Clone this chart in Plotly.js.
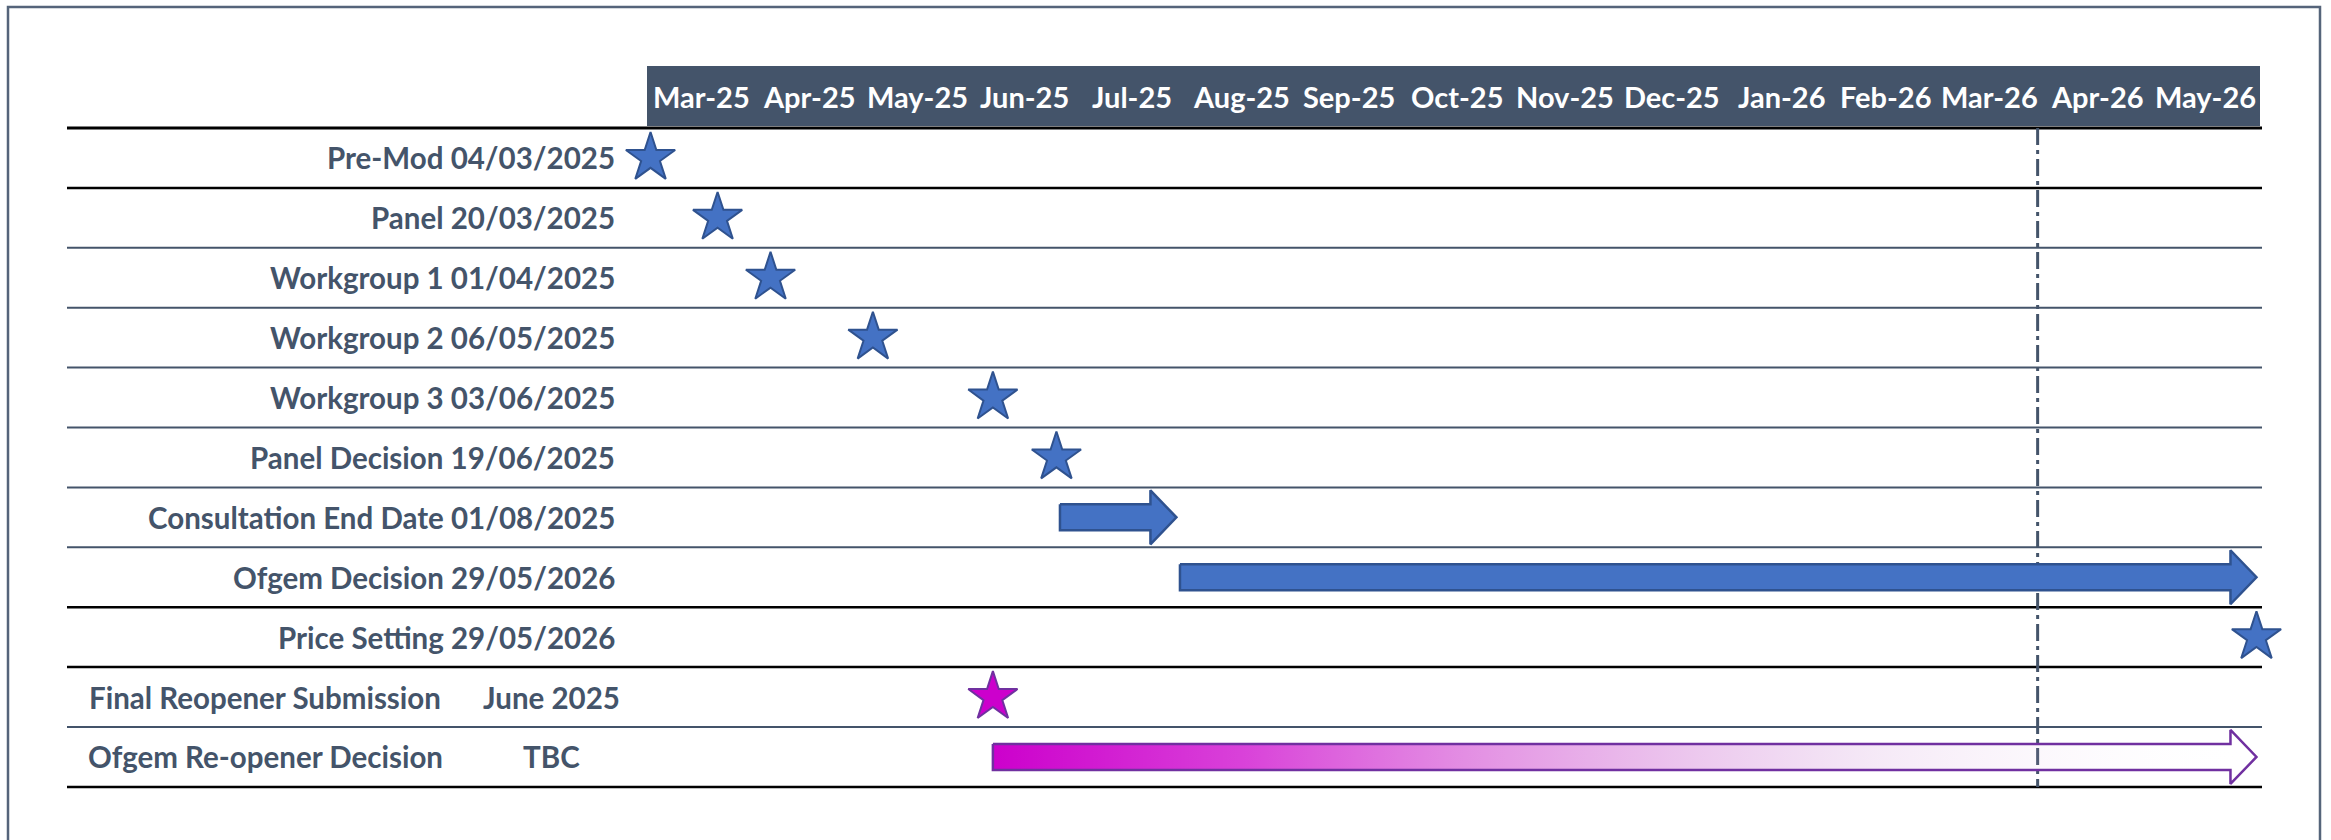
<!DOCTYPE html>
<html><head><meta charset="utf-8">
<script src="https://cdn.plot.ly/plotly-3.0.1.min.js"></script>
<style>html,body{margin:0;padding:0;background:#fff;}#chart{width:2331px;height:840px;}</style>
</head><body><div id="chart"></div>
<script>
// ---------- DATA ----------
const months = ['2025-03-01','2025-04-01','2025-05-01','2025-06-01','2025-07-01','2025-08-01','2025-09-01','2025-10-01','2025-11-01','2025-12-01','2026-01-01','2026-02-01','2026-03-01','2026-04-01','2026-05-01'];
const monthLabels = ['Mar-25','Apr-25','May-25','Jun-25','Jul-25','Aug-25','Sep-25','Oct-25','Nov-25','Dec-25','Jan-26','Feb-26','Mar-26','Apr-26','May-26'];
const axisEnd = '2026-06-01';

const taskNames = ['Pre-Mod','Panel','Workgroup 1','Workgroup 2','Workgroup 3','Panel Decision','Consultation End Date','Ofgem Decision','Price Setting','Final Reopener Submission','Ofgem Re-opener Decision'];
const taskDates = ['04/03/2025','20/03/2025','01/04/2025','06/05/2025','03/06/2025','19/06/2025','01/08/2025','29/05/2026','29/05/2026','June 2025','TBC'];

// milestones (stars), positions
const starRows  = [0,1,2,3,4,5,8];
const starDates = ['2025-03-02','2025-03-21','2025-04-05','2025-05-04','2025-06-07','2025-06-25','2026-05-31'];
const reopenStarRows  = [9];
const reopenStarDates = ['2025-06-07'];

// block arrows
const arrowRows   = [6,7];
const arrowStarts = ['2025-06-26','2025-07-30'];
const arrowEnds   = ['2025-07-29','2026-05-31'];
const reopenArrowRows   = [10];
const reopenArrowStarts = ['2025-06-07'];
const reopenArrowEnds   = ['2026-05-31'];

const todayDate = '2026-03-30';

// ---------- LAYOUT CONSTANTS ----------
const W = 2331, H = 840;
const axisLeftPx = 647, axisRightPx = 2260;
const rowTopPx = 128, rowPx = 59.9, headerTopPx = 66, headerBotPx = 126;
const lineLeftPx = 67, lineRightPx = 2262;
const slate = '#44546A', blue = '#4472C4', blueEdge = '#2F528F', magenta = '#CC00CC', purpleEdge = '#7030A0';
const FONT = 'Lato, "Open Sans", sans-serif';
const lineColors = ['#000000','#000000',slate,slate,slate,slate,slate,slate,'#000000','#000000',slate,'#000000'];
const lineWidths = [3,2.5,2,2,2,2,2,2,2.5,2.5,2,2.5];

const t0 = Date.parse(months[0]), t1 = Date.parse(axisEnd);
const mpp = (t1 - t0) / (axisRightPx - axisLeftPx);
const iso = ms => new Date(ms).toISOString().replace('T',' ').replace('Z','');
const xRange = [iso(t0 - axisLeftPx*mpp), iso(t1 + (W-axisRightPx)*mpp)];
const rowCenter0 = rowTopPx + rowPx/2;
const pxToY = p => (p - rowCenter0) / rowPx;
const yRange = [pxToY(H), pxToY(0)];

const shaftHalf = 13/rowPx, headHalf = 27/rowPx, headPx = 26;

function arrows(rows, starts, ends){
  const xs = [], ys = [];
  rows.forEach((r,i) => {
    const ts = Date.parse(starts[i]), te = Date.parse(ends[i]), hl = headPx*mpp;
    [ts, te-hl, te-hl, te, te-hl, te-hl, ts, ts].forEach(v => xs.push(iso(v)));
    ys.push(r-shaftHalf, r-shaftHalf, r-headHalf, r, r+headHalf, r+shaftHalf, r+shaftHalf, r-shaftHalf);
    xs.push(null); ys.push(null);
  });
  return {xs, ys};
}

const a1 = arrows(arrowRows, arrowStarts, arrowEnds);
const a2 = arrows(reopenArrowRows, reopenArrowStarts, reopenArrowEnds);

const traces = [
  {type:'scatter', mode:'lines', x:a1.xs, y:a1.ys, fill:'toself', fillcolor:blue,
   line:{color:blueEdge, width:2.5}, hoverinfo:'skip', showlegend:false},
  {type:'scatter', mode:'lines', x:a2.xs, y:a2.ys, fill:'toself',
   fillgradient:{type:'horizontal', colorscale:[[0,'rgba(204,0,204,1)'],[0.2,'rgba(204,0,204,0.74)'],[0.4,'rgba(200,40,200,0.48)'],[0.7,'rgba(190,110,200,0.15)'],[1,'rgba(255,255,255,0)']]},
   line:{color:purpleEdge, width:2.5}, hoverinfo:'skip', showlegend:false},
  {type:'scatter', mode:'markers', x:starDates, y:starRows, cliponaxis:false,
   marker:{symbol:'star', size:37, color:blue, line:{color:blueEdge, width:2}}, showlegend:false},
  {type:'scatter', mode:'markers', x:reopenStarDates, y:reopenStarRows, cliponaxis:false,
   marker:{symbol:'star', size:37, color:magenta, line:{color:purpleEdge, width:2}}, showlegend:false}
];

const shapes = [];
// outer frame
shapes.push({type:'rect', xref:'paper', yref:'paper', x0:8/W, x1:2320/W, y0:-0.05, y1:1-7/H,
  line:{color:'#55647A', width:2.5}, fillcolor:'rgba(0,0,0,0)', layer:'below'});
// header band
shapes.push({type:'rect', xref:'x', yref:'y', x0:months[0], x1:axisEnd, y0:pxToY(headerTopPx), y1:pxToY(headerBotPx),
  line:{width:0}, fillcolor:slate, layer:'below'});
// row separators
lineColors.forEach((c,k) => {
  shapes.push({type:'line', xref:'paper', yref:'y', x0:lineLeftPx/W, x1:lineRightPx/W, y0:k-0.5, y1:k-0.5,
    line:{color:c, width:lineWidths[k]}, layer:'below'});
});
// today marker
shapes.push({type:'line', xref:'x', yref:'y', x0:todayDate, x1:todayDate, y0:-0.5, y1:taskNames.length-0.5,
  line:{color:slate, width:3, dash:'17px,5px,4px,5px'}, layer:'below'});

const annotations = [];
const headerY = pxToY((headerTopPx+headerBotPx)/2);
months.forEach((m,i) => {
  const a = Date.parse(m), b = Date.parse(i+1 < months.length ? months[i+1] : axisEnd);
  annotations.push({xref:'x', yref:'y', x:iso((a+b)/2), y:headerY, text:monthLabels[i], showarrow:false,
    xanchor:'center', yanchor:'middle', font:{family:FONT, size:29, color:'#FFFFFF', weight:700}});
});
const labelFont = {family:FONT, size:29.5, color:slate, weight:700};
const isFullDate = s => /^\d\d\/\d\d\/\d{4}$/.test(s);
taskNames.forEach((n,i) => {
  if (isFullDate(taskDates[i])) {
    annotations.push({xref:'paper', yref:'y', x:617/W, y:i, text:n + ' ' + taskDates[i], showarrow:false,
      xanchor:'right', yanchor:'middle', font:labelFont});
  } else {
    annotations.push({xref:'paper', yref:'y', x:265/W, y:i, text:n, showarrow:false,
      xanchor:'center', yanchor:'middle', font:labelFont});
    annotations.push({xref:'paper', yref:'y', x:551/W, y:i, text:taskDates[i], showarrow:false,
      xanchor:'center', yanchor:'middle', font:labelFont});
  }
});

const layout = {
  width:W, height:H, margin:{l:0,r:0,t:0,b:0}, paper_bgcolor:'#FFFFFF', plot_bgcolor:'#FFFFFF',
  xaxis:{type:'date', range:xRange, visible:false, domain:[0,1], fixedrange:true},
  yaxis:{range:yRange, visible:false, domain:[0,1], fixedrange:true},
  shapes, annotations, showlegend:false, font:{family:FONT}
};
Plotly.newPlot('chart', traces, layout, {displayModeBar:false, staticPlot:true});
</script></body></html>
